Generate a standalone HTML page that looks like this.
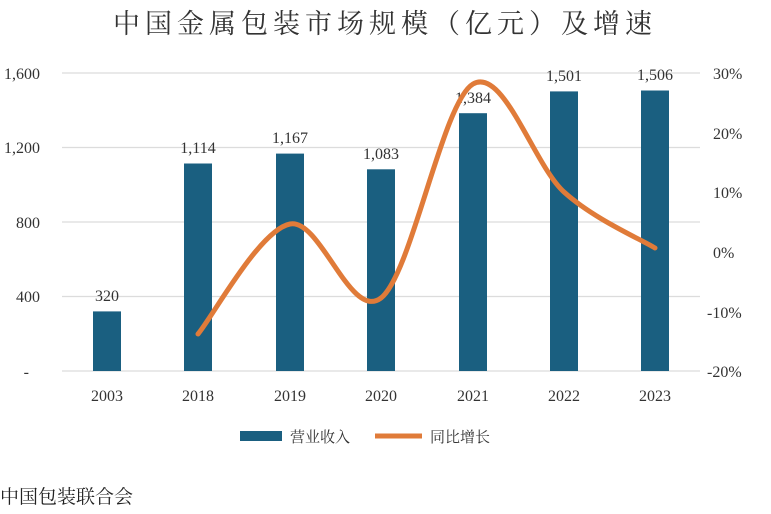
<!DOCTYPE html>
<html><head><meta charset="utf-8"><style>
body{margin:0;background:#fff;}
svg{display:block;font-family:"Liberation Serif","Noto Serif CJK SC",serif;}
</style></head><body>
<svg width="771" height="514" viewBox="0 0 771 514" xmlns="http://www.w3.org/2000/svg">
<text x="385" y="33" text-anchor="middle" font-size="27" letter-spacing="5" fill="#333" font-family="'Noto Serif CJK SC','Liberation Serif',serif">中国金属包装市场规模（亿元）及增速</text>
<g stroke="#dcdcdc" stroke-width="1.2">
<line x1="62" y1="73" x2="700" y2="73"/><line x1="62" y1="147.5" x2="700" y2="147.5"/><line x1="62" y1="222" x2="700" y2="222"/><line x1="62" y1="296.5" x2="700" y2="296.5"/><line x1="62" y1="371" x2="700" y2="371"/>
</g>
<g font-size="16" fill="#333" text-anchor="end">
<text x="40" y="79">1,600</text><text x="40" y="153">1,200</text><text x="40" y="228">800</text><text x="40" y="302">400</text><text x="29" y="377">-</text>
</g>
<g font-size="16" fill="#333" text-anchor="start">
<text x="713" y="79">30%</text><text x="713" y="139">20%</text><text x="713" y="198">10%</text><text x="713" y="258">0%</text><text x="707" y="318">-10%</text><text x="707" y="377">-20%</text>
</g>
<g fill="#1a5f80">
<rect x="93" y="311.4" width="28" height="59.6"/>
<rect x="184" y="163.5" width="28" height="207.5"/>
<rect x="276" y="153.6" width="28" height="217.4"/>
<rect x="367" y="169.3" width="28" height="201.7"/>
<rect x="459" y="113.2" width="28" height="257.8"/>
<rect x="550" y="91.4" width="28" height="279.6"/>
<rect x="641" y="90.5" width="28" height="280.5"/>
</g>
<g font-size="16" fill="#333" text-anchor="middle">
<text x="107" y="301">320</text><text x="198" y="153">1,114</text><text x="290" y="143">1,167</text><text x="381" y="159">1,083</text><text x="473" y="103">1,384</text><text x="564" y="81">1,501</text><text x="655" y="80">1,506</text>
</g>
<path d="M198,334 C213.3,315.7 259.5,230 290,224 C320.5,218 350.5,321.3 381,298 C411.5,274.7 442.5,101.7 473,84 C503.5,66.3 533.7,164.7 564,192 C594.3,219.3 639.8,238.7 655,248" fill="none" stroke="#e07b39" stroke-width="5" stroke-linecap="round"/>
<g font-size="16" fill="#333" text-anchor="middle">
<text x="107" y="401">2003</text><text x="198" y="401">2018</text><text x="290" y="401">2019</text><text x="381" y="401">2020</text><text x="473" y="401">2021</text><text x="564" y="401">2022</text><text x="655" y="401">2023</text>
</g>
<rect x="240" y="431" width="42" height="10" fill="#1a5f80"/>
<text x="290" y="442" font-size="15" fill="#333">营业收入</text>
<line x1="375" y1="436" x2="422" y2="436" stroke="#e07b39" stroke-width="5"/>
<text x="430" y="442" font-size="15" fill="#333">同比增长</text>
<text x="0" y="503" font-size="19" fill="#222">中国包装联合会</text>
</svg>
</body></html>
